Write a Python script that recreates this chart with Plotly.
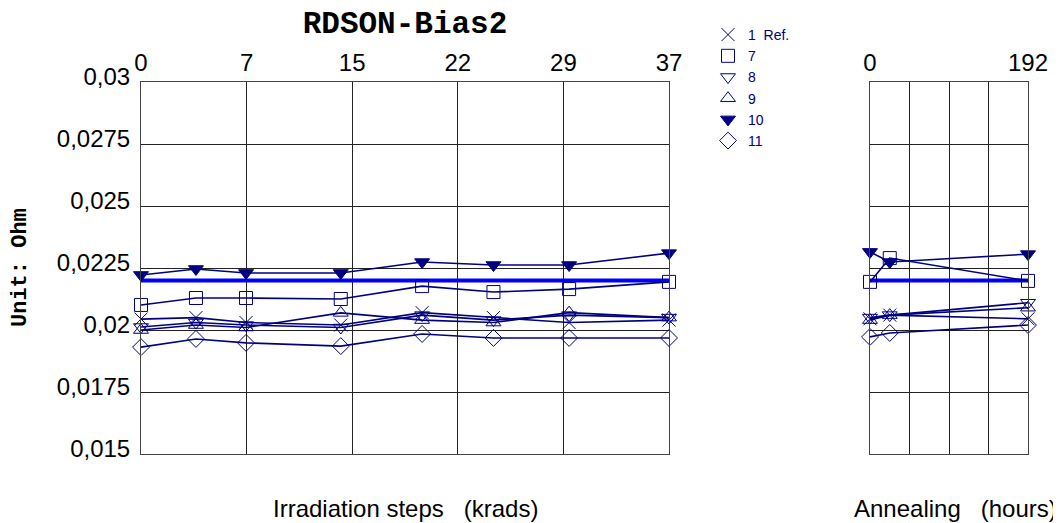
"""
RDSON-Bias2 irradiation / annealing chart.
"""
import numpy as np
import plotly.graph_objects as go

# x positions (krad steps are drawn on an evenly spaced scale)
dose_x = [0, 3.85, 7.36, 14.0, 19.7, 24.7, 30.0, 37]
dose_ticks = ["0", "7", "15", "22", "29", "37"]
anneal_h = [0, 24, 192]
anneal_ticks = ["0", "", "", "", "192"]

y_ticks = [0.015, 0.0175, 0.02, 0.0225, 0.025, 0.0275, 0.03]
y_tick_text = ["0,015", "0,0175", "0,02", "0,0225", "0,025", "0,0275", "0,03"]

# series values (Ohm): irradiation, then annealing
s1_irr = [0.02044, 0.02050, 0.02030, 0.02020, 0.02070, 0.02050, 0.02030, 0.02040]
s1_ann = [0.02045, 0.02060, 0.02045]
s7_irr = [0.02101, 0.02129, 0.02129, 0.02125, 0.02177, 0.02153, 0.02165, 0.02194]
s7_ann = [0.02194, 0.02290, 0.02198]
s8_irr = [0.02012, 0.02030, 0.02020, 0.02010, 0.02060, 0.02040, 0.02060, 0.02050]
s8_ann = [0.02050, 0.02060, 0.02110]
s9_irr = [0.02000, 0.02020, 0.02010, 0.02069, 0.02040, 0.02030, 0.02070, 0.02050]
s9_ann = [0.02040, 0.02060, 0.02090]
s10_irr = [0.02222, 0.02246, 0.02230, 0.02230, 0.02274, 0.02262, 0.02262, 0.02310]
s10_ann = [0.02315, 0.02274, 0.02306]
s11_irr = [0.01931, 0.01964, 0.01948, 0.01935, 0.01984, 0.01968, 0.01968, 0.01968]
s11_ann = [0.01972, 0.01988, 0.02020]
ref_level = 0.022

NAVY = "#000080"
series = [
    ("1  Ref.", "x-thin-open", s1_irr, s1_ann),
    ("7", "square-open", s7_irr, s7_ann),
    ("8", "triangle-down-open", s8_irr, s8_ann),
    ("9", "triangle-up-open", s9_irr, s9_ann),
    ("10", "triangle-down", s10_irr, s10_ann),
    ("11", "diamond-open", s11_irr, s11_ann),
]

W, H = 1061, 523
OFF = 8  # page body margin


def px(x):
    return (x - OFF) / W


def py(y):
    return 1 - (y - OFF) / H


fig = go.Figure()

# reference level line across both panels
fig.add_trace(go.Scatter(x=[dose_x[0], dose_x[-1]], y=[ref_level, ref_level], mode="lines",
                         line=dict(color="#0000FF", width=4), showlegend=False,
                         xaxis="x", yaxis="y", hoverinfo="skip"))
fig.add_trace(go.Scatter(x=[anneal_h[0], anneal_h[-1]], y=[ref_level, ref_level], mode="lines",
                         line=dict(color="#0000FF", width=4), showlegend=False,
                         xaxis="x2", yaxis="y2", hoverinfo="skip"))

for name, sym, irr, ann in series:
    marker = dict(symbol=sym, size=13, color=NAVY, line=dict(color=NAVY, width=1))
    fig.add_trace(go.Scatter(x=dose_x, y=irr, mode="lines+markers", name=name,
                             line=dict(color=NAVY, width=1.6), marker=marker,
                             showlegend=False, cliponaxis=False, xaxis="x", yaxis="y"))
    fig.add_trace(go.Scatter(x=anneal_h, y=ann, mode="lines+markers", name=name,
                             line=dict(color=NAVY, width=1.6), marker=marker,
                             showlegend=False, cliponaxis=False, xaxis="x2", yaxis="y2"))
    # marker-only legend entry
    fig.add_trace(go.Scatter(x=[None], y=[None], mode="markers", name=name, marker=marker,
                             showlegend=True, xaxis="x", yaxis="y"))

axis_common = dict(showgrid=True, gridcolor="#222222", gridwidth=1, showline=True,
                   linecolor="#444444", linewidth=1, mirror=True, zeroline=False,
                   ticks="", tickfont=dict(family="Liberation Sans, Arial", size=24, color="black"))

fig.update_layout(
    width=W, height=H,
    margin=dict(l=0, r=0, t=0, b=0, autoexpand=False),
    paper_bgcolor="white", plot_bgcolor="white",
    title=dict(text="<b>RDSON-Bias2</b>", x=px(405), y=py(22), xanchor="center",
               yanchor="middle",
               font=dict(family="Liberation Mono, Courier New", size=31, color="black")),
    xaxis=dict(domain=[px(141), px(669)], range=[0, 37], side="top",
               tickvals=list(np.linspace(0, 37, 6)), ticktext=dose_ticks, **axis_common),
    yaxis=dict(domain=[py(454), py(82)], range=[0.015, 0.03],
               tickvals=y_ticks, ticktext=y_tick_text, anchor="x", ticklabelstandoff=5,
               ticklabelshift=-5, **axis_common),
    xaxis2=dict(domain=[px(870), px(1028)], range=[0, 192], side="top", anchor="y2",
                tickvals=[0, 48, 96, 144, 192], ticktext=anneal_ticks, **axis_common),
    yaxis2=dict(domain=[py(454), py(82)], range=[0.015, 0.03], anchor="x2",
                tickvals=y_ticks, showticklabels=False, **axis_common),
    legend=dict(x=px(708), y=py(19), xanchor="left", yanchor="top",
                bgcolor="rgba(0,0,0,0)",
                font=dict(family="Liberation Sans, Arial", size=14, color=NAVY),
                tracegroupgap=0, itemwidth=30),
    showlegend=True,
    annotations=[
        dict(text="Irradiation steps   (krads)", x=px(405), y=py(508),
             xref="paper", yref="paper", showarrow=False, xanchor="center", yanchor="middle",
             font=dict(family="Liberation Sans, Arial", size=24, color="black")),
        dict(text="Annealing   (hours)", x=px(955), y=py(508),
             xref="paper", yref="paper", showarrow=False, xanchor="center", yanchor="middle",
             font=dict(family="Liberation Sans, Arial", size=24, color="black")),
        dict(text="<b>Unit: Ohm</b>", x=px(20), y=py(268), xref="paper", yref="paper",
             showarrow=False, textangle=-90, xanchor="center", yanchor="middle",
             font=dict(family="Liberation Mono, Courier New", size=22, color="black")),
    ],
)

fig.write_html("out.html")
